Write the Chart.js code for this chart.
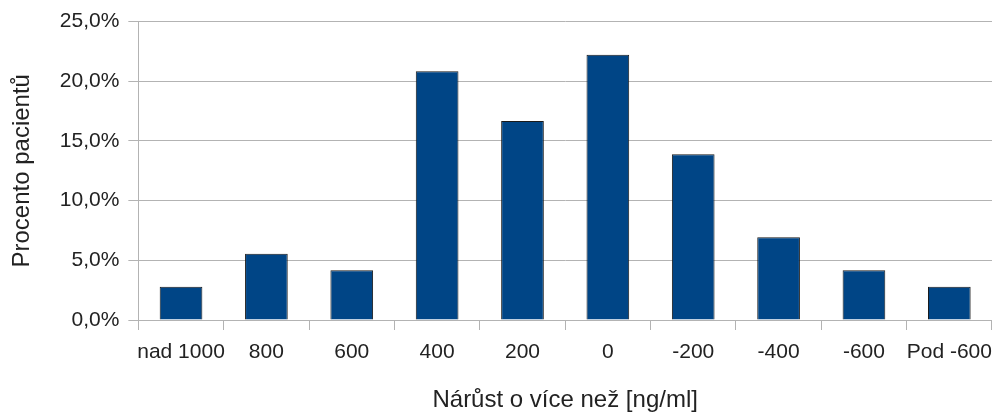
<!DOCTYPE html>
<html>
<head>
<meta charset="utf-8">
<script src="https://cdn.jsdelivr.net/npm/chart.js@4"></script>
<style>
  html, body { margin: 0; padding: 0; background: #fff; }
  #wrap { width: 992px; height: 415px; }
</style>
</head>
<body>
<div id="wrap"><canvas id="myChart"></canvas></div>
<script>
'use strict';

const categories = ['nad 1000', '800', '600', '400', '200', '0', '-200', '-400', '-600', 'Pod -600'];
const percentValues = [2.78, 5.56, 4.17, 20.83, 16.67, 22.22, 13.89, 6.94, 4.17, 2.78];

const yTitle = 'Procento pacientů';
const xTitle = 'Nárůst o více než [ng/ml]';

const gridColor = '#b3b3b3';
const textColor = '#222222';
const fontFamily = '"Liberation Sans", Arial, sans-serif';

function formatPercent(value) {
  return value.toFixed(1).replace('.', ',') + '%';
}

let ctx = document.getElementById('myChart').getContext('2d');
let chart = new Chart(ctx, {
  type: 'bar',
  data: {
    labels: categories,
    datasets: [{
      label: yTitle,
      data: percentValues,
      backgroundColor: '#004586',
      borderColor: '#1a1a1a',
      borderWidth: 1,
      categoryPercentage: 1,
      barPercentage: 0.5
    }]
  },
  options: {
    responsive: true,
    maintainAspectRatio: false,
    animation: false,
    layout: {
      padding: { top: 16, right: 0, bottom: 0, left: 8 }
    },
    plugins: {
      legend: { display: false },
      tooltip: { enabled: false }
    },
    scales: {
      x: {
        // let the last label run to the canvas edge instead of shrinking the plot
        afterFit: (scale) => { scale.paddingRight = 0; },
        grid: {
          drawOnChartArea: false,
          color: gridColor,
          tickLength: 10
        },
        border: { display: false },
        ticks: {
          color: textColor,
          font: { family: fontFamily, size: 21 },
          padding: 10,
          maxRotation: 0,
          autoSkip: false
        },
        title: {
          display: true,
          text: xTitle,
          color: textColor,
          font: { family: fontFamily, size: 24 },
          padding: { top: 11, bottom: 0 }
        }
      },
      y: {
        min: 0,
        max: 25,
        grid: {
          color: gridColor,
          tickLength: 10
        },
        border: { display: true, color: gridColor },
        ticks: {
          stepSize: 5,
          color: textColor,
          font: { family: fontFamily, size: 21 },
          padding: 9,
          callback: (value) => formatPercent(value)
        },
        title: {
          display: true,
          text: yTitle,
          color: textColor,
          font: { family: fontFamily, size: 24 },
          padding: { top: 0, bottom: 14 }
        }
      }
    }
  }
});
</script>
</body>
</html>
